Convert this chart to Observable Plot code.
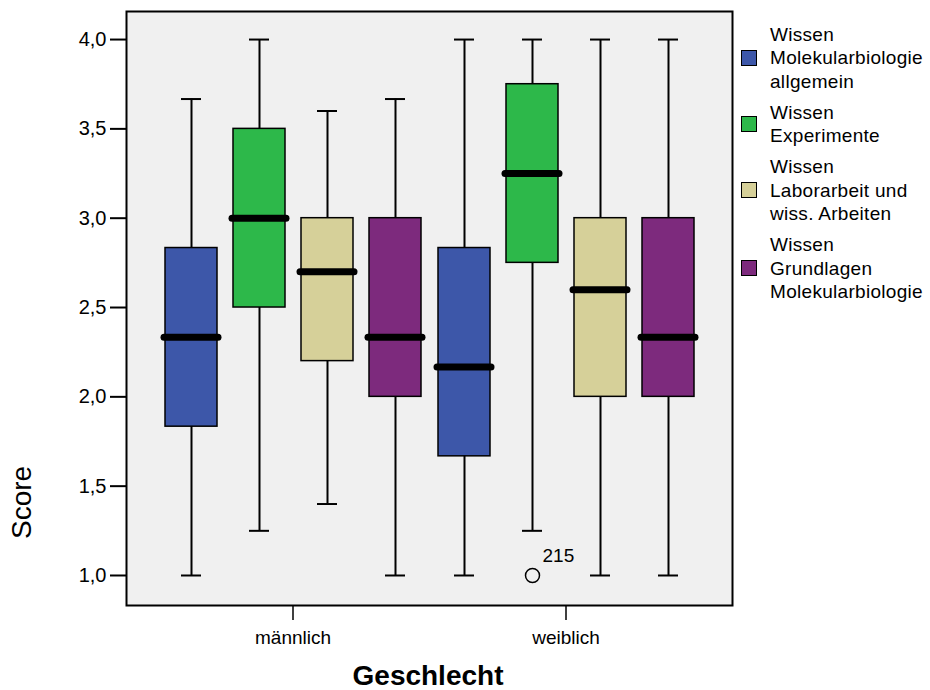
<!DOCTYPE html>
<html>
<head>
<meta charset="utf-8">
<script src="https://cdn.jsdelivr.net/npm/d3@7"></script>
<script src="https://cdn.jsdelivr.net/npm/@observablehq/plot@0.6"></script>
<style>
  body { margin: 0; background: #fff; font-family: "Liberation Sans", Arial, sans-serif; }
  #wrap { position: relative; width: 930px; height: 690px; }
  #chart svg { display: block; }
  .ylab { position: absolute; left: 6px; top: 539px; font-size: 28px; color: #000; white-space: nowrap;
          transform: rotate(-90deg); transform-origin: 0 0; }
  .xlab { position: absolute; left: 428px; top: 660px; transform: translateX(-50%); font-size: 28px; font-weight: bold; color: #000; white-space: nowrap; }
  #legend { position: absolute; left: 741px; top: 22.5px; font-size: 19px; letter-spacing: 0.3px; line-height: 23.5px; color: #000; }
  .item { display: flex; align-items: center; margin-bottom: 7.5px; }
  .sw { width: 14px; height: 14px; border: 1px solid #000; margin-right: 13px; flex: none; }
</style>
</head>
<body>
<div id="wrap">
  <div id="chart"></div>
  <div class="ylab" id="ylab"></div>
  <div class="xlab" id="xlab"></div>
  <div id="legend"></div>
</div>
<script>
// ---- data ----
const genders = ["männlich", "weiblich"];
const variables = [
  "Wissen Molekularbiologie allgemein",
  "Wissen Experimente",
  "Wissen Laborarbeit und wiss. Arbeiten",
  "Wissen Grundlagen Molekularbiologie"
];
const legendLines = [
  ["Wissen", "Molekularbiologie", "allgemein"],
  ["Wissen", "Experimente"],
  ["Wissen", "Laborarbeit und", "wiss. Arbeiten"],
  ["Wissen", "Grundlagen", "Molekularbiologie"]
];
const colors = ["#3D57A9", "#2DB84A", "#D6D099", "#7D2A7D"];
// order: männlich x 4 variables, then weiblich x 4 variables
const whiskerLow  = [1.0,   1.25, 1.4, 1.0,   1.0,   1.25, 1.0, 1.0];
const quart1      = [1.833, 2.5,  2.2, 2.0,   1.667, 2.75, 2.0, 2.0];
const medians     = [2.333, 3.0,  2.7, 2.333, 2.167, 3.25, 2.6, 2.333];
const quart3      = [2.833, 3.5,  3.0, 3.0,   2.833, 3.75, 3.0, 3.0];
const whiskerHigh = [3.667, 4.0,  3.6, 3.667, 4.0,   4.0,  4.0, 4.0];
const outlierGender = ["weiblich"];
const outlierVariable = ["Wissen Experimente"];
const outlierValue = [1.0];
const outlierLabel = ["215"];
const yTicks = [1.0, 1.5, 2.0, 2.5, 3.0, 3.5, 4.0];
const yLabel = "Score";
const xLabel = "Geschlecht";

// ---- tables ----
const rows = genders.flatMap((g, gi) => variables.map((v, vi) => {
  const i = gi * variables.length + vi;
  return {gender: g, variable: v, lo: whiskerLow[i], q1: quart1[i], med: medians[i], q3: quart3[i], hi: whiskerHigh[i]};
}));
const outliers = outlierValue.map((v, i) => ({gender: outlierGender[i], variable: outlierVariable[i], value: v, label: outlierLabel[i]}));

const fmt = d => d.toFixed(1).replace(".", ",");

const chart = Plot.plot({
  width: 930,
  height: 690,
  marginTop: 11,
  marginRight: 198,
  marginBottom: 85,
  marginLeft: 125,
  style: {fontFamily: "Liberation Sans, Arial, sans-serif", fontSize: "19px", color: "#000", background: "transparent", overflow: "visible"},
  fx: {domain: genders, paddingInner: 0, paddingOuter: 0.11, axis: null, label: null},
  x: {domain: variables, paddingInner: 0.24, paddingOuter: 0.125, axis: null, label: null},
  y: {domain: [0.832, 4.157], axis: null, label: null},
  color: {domain: variables, range: colors},
  marks: [
    Plot.frame({facet: "super", fill: "#F0F0F0", insetLeft: -30, insetRight: -30}),
    Plot.ruleX(rows, {fx: "gender", x: "variable", y1: "lo", y2: "hi", stroke: "#000", strokeWidth: 2}),
    Plot.tickY(rows, {fx: "gender", x: "variable", y: "lo", stroke: "#000", strokeWidth: 2, insetLeft: 16, insetRight: 16}),
    Plot.tickY(rows, {fx: "gender", x: "variable", y: "hi", stroke: "#000", strokeWidth: 2, insetLeft: 16, insetRight: 16}),
    Plot.barY(rows, {fx: "gender", x: "variable", y1: "q1", y2: "q3", fill: "variable", stroke: "#000", strokeWidth: 1.5}),
    Plot.tickY(rows, {fx: "gender", x: "variable", y: "med", stroke: "#000", strokeWidth: 7, strokeLinecap: "round", insetLeft: -1, insetRight: -1}),
    Plot.dot(outliers, {fx: "gender", x: "variable", y: "value", r: 7, stroke: "#000", strokeWidth: 1.5, fill: "none"}),
    Plot.text(outliers, {fx: "gender", x: "variable", y: "value", text: "label", textAnchor: "start", lineAnchor: "bottom", dx: 10, dy: -13, fontSize: 19, fill: "#000"}),
    Plot.axisY({ticks: yTicks, tickFormat: fmt, tickSize: 16, tickPadding: 4, strokeWidth: 2, dx: -30, label: null, fontSize: 20}),
    Plot.axisFx({anchor: "bottom", tickSize: 15, tickPadding: 10, strokeWidth: 1.5, label: null, fontSize: 19}),
    Plot.frame({facet: "super", stroke: "#000", strokeWidth: 2, insetLeft: -30, insetRight: -30})
  ]
});
document.getElementById("chart").appendChild(chart);

document.getElementById("ylab").textContent = yLabel;
document.getElementById("xlab").textContent = xLabel;

const legend = document.getElementById("legend");
variables.forEach((v, i) => {
  const item = document.createElement("div");
  item.className = "item";
  const sw = document.createElement("div");
  sw.className = "sw";
  sw.style.background = colors[i];
  const txt = document.createElement("div");
  txt.innerHTML = legendLines[i].join("<br>");
  item.appendChild(sw);
  item.appendChild(txt);
  legend.appendChild(item);
});
</script>
</body>
</html>
